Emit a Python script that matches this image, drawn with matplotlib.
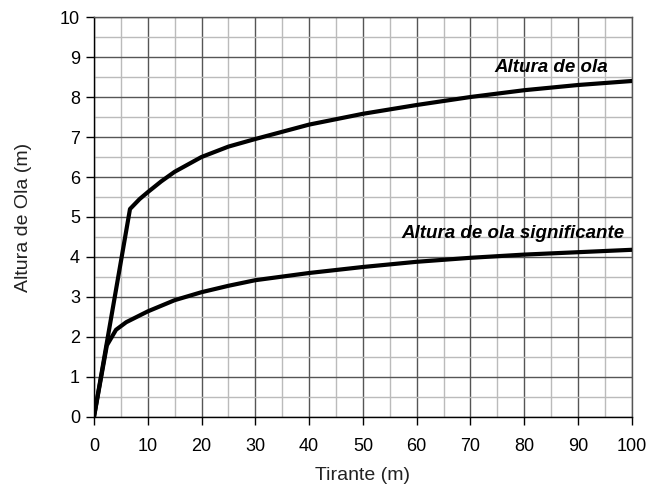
import matplotlib
matplotlib.use("Agg")
import matplotlib.pyplot as plt
from matplotlib.ticker import MultipleLocator

plt.rcParams['font.family'] = ['Liberation Sans', 'DejaVu Sans']

# Altura de ola
x_ola = [0, 6.7, 8.5, 10, 12.5, 15, 20, 25, 30, 40, 50, 60, 70, 80, 90, 100]
y_ola = [0, 5.2, 5.45, 5.62, 5.89, 6.13, 6.5, 6.76, 6.95, 7.31, 7.58, 7.8, 8.0, 8.17, 8.3, 8.4]

# Altura de ola significante
x_sig = [0, 2.4, 4.1, 6, 10, 15, 20, 25, 30, 40, 50, 60, 70, 80, 90, 100]
y_sig = [0, 1.79, 2.18, 2.37, 2.64, 2.92, 3.12, 3.28, 3.42, 3.6, 3.75, 3.88, 3.98, 4.06, 4.12, 4.18]

fig = plt.figure(figsize=(6.48, 4.86), dpi=100)
ax = fig.add_axes([0.145, 0.142, 0.83, 0.823])

ax.plot(x_ola, y_ola, color='k', lw=3, solid_joinstyle='round', zorder=3)
ax.plot(x_sig, y_sig, color='k', lw=3, solid_joinstyle='round', zorder=3)

ax.set_xlim(0, 100)
ax.set_ylim(0, 10)
ax.xaxis.set_major_locator(MultipleLocator(10))
ax.xaxis.set_minor_locator(MultipleLocator(5))
ax.yaxis.set_major_locator(MultipleLocator(1))
ax.yaxis.set_minor_locator(MultipleLocator(0.5))

ax.grid(which='major', color='#555555', lw=1.0)
ax.grid(which='minor', color='#bbbbbb', lw=1.0)
ax.set_axisbelow(True)

for s in ['top', 'right']:
    ax.spines[s].set_color('#555555')
    ax.spines[s].set_linewidth(1.0)
for s in ['left', 'bottom']:
    ax.spines[s].set_color('k')
    ax.spines[s].set_linewidth(1.0)

ax.tick_params(which='major', direction='out', length=6, width=1, labelsize=13)
ax.tick_params(axis='x', pad=9)
ax.tick_params(axis='y', pad=4)
ax.tick_params(which='minor', length=0)

ax.set_xlabel('Tirante (m)', fontsize=14, color='#222222')
ax.set_ylabel('Altura de Ola (m)', fontsize=14, color='#222222')
ax.xaxis.set_label_coords(0.5, -0.125)
ax.yaxis.set_label_coords(-0.115, 0.5)

ax.text(74.5, 8.75, 'Altura de ola', fontsize=13.5, fontweight='bold', fontstyle='italic',
        va='center', ha='left')
ax.text(57.2, 4.58, 'Altura de ola significante', fontsize=13.5, fontweight='bold',
        fontstyle='italic', va='center', ha='left')

fig.savefig('out.png', dpi=100)
